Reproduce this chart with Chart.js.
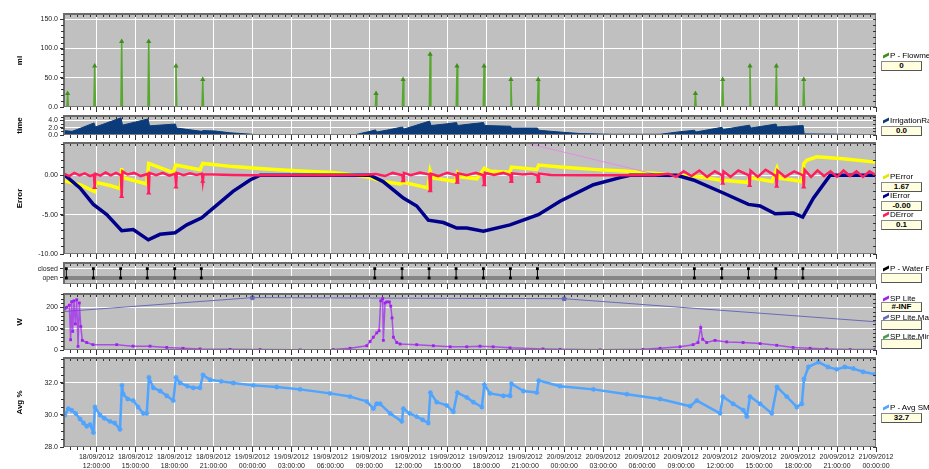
<!DOCTYPE html>
<html>
<head>
<meta charset="utf-8">
<script src="https://cdn.jsdelivr.net/npm/chart.js@4"></script>
<style>
  body { margin: 0; background: #fff; width: 929px; height: 469px; overflow: hidden; position: relative; font-family: "Liberation Sans", Arial, sans-serif; }
  canvas.panel { position: absolute; left: 0; }
  .leg { position: absolute; left: 883px; font-size: 8px; line-height: 9px; color: #000; white-space: nowrap; }
  .leg i { display: inline-block; width: 6px; height: 3px; margin-right: 1px; transform: skewY(-25deg); vertical-align: 1px; }
  .box { position: absolute; left: 881px; width: 39px; height: 8px; background: #ffffe0; border: 1px solid #8a8a8a; border-right-color: #555; border-bottom-color: #555; font-size: 8px; font-weight: bold; text-align: center; line-height: 8px; }
</style>
</head>
<body>
<canvas id="cFlow" class="panel"></canvas>
<canvas id="cRate" class="panel"></canvas>
<canvas id="cErr" class="panel"></canvas>
<canvas id="cValve" class="panel"></canvas>
<canvas id="cLite" class="panel"></canvas>
<canvas id="cAvg" class="panel"></canvas>
<div id="legend"></div>
<script>
// x values are hours since 18/09/2012 00:00
const X_MIN = 9.5, X_MAX = 72;
const tickHours = [12, 15, 18, 21, 24, 27, 30, 33, 36, 39, 42, 45, 48, 51, 54, 57, 60, 63, 66, 69, 72];

// --- P - Flowmeter (ml) ---
const flowTimes = [9.78, 11.86, 13.94, 16.02, 18.12, 20.18, 33.52, 35.6, 37.68, 39.75, 41.83, 43.9, 46.0, 58.1, 60.2, 62.3, 64.33, 66.44];
const flowPeaks = [23, 70, 112, 112, 70, 47, 23, 47, 90, 70, 70, 47, 47, 23, 47, 70, 70, 47];

// --- IrrigationRate (time) ---
const rateTimes = [9.5, 10.12, 10.73, 11.81, 11.92, 13.89, 14.0, 15.97, 16.08, 17.66, 18.08, 18.16, 20.12, 20.2, 21.12, 22.28, 23.97, 24.43,
  31.9, 32.29, 33.06, 33.48, 33.56, 34.6, 35.56, 35.64, 37.64, 37.75, 38.83, 39.72, 39.79, 40.75, 41.79, 41.87, 43.87, 43.95, 45.95, 46.03,
  47.68, 49.22, 51.53, 55.38, 56.92, 58.04, 58.11, 60.15, 60.23, 62.27, 62.35, 64.31, 64.39, 66.39, 66.47, 72.0];
const rateValues = [1.2, 1.0, 1.8, 3.3, 2.2, 4.7, 2.7, 4.4, 2.5, 2.9, 3.0, 1.9, 1.0, 1.2, 1.1, 0.6, 0.2, 0.05,
  0.05, 0.4, 1.0, 1.4, 0.8, 1.5, 2.2, 1.6, 3.8, 2.6, 3.0, 3.4, 2.6, 3.0, 3.4, 2.6, 2.4, 1.9, 1.9, 1.3,
  0.8, 0.4, 0.2, 0.2, 0.9, 1.3, 0.8, 2.1, 1.5, 2.7, 1.9, 3.0, 2.2, 2.6, 0.3, 0.1];

// --- PError / IError / DError ---
const pErrTimes = [9.5, 10.73, 11.83, 11.94, 13.04, 13.85, 13.94, 14.04, 15.87, 16.02, 17.91, 18.1, 19.97, 20.18, 22.5, 25.1, 27.67, 30.2, 31.52,
  33.06, 34.06, 35.37, 35.62, 37.52, 37.68, 37.83, 39.6, 39.78, 40.0, 41.27, 41.86, 42.3, 43.83, 43.94, 45.89, 46.04, 47.68, 50.25, 52.82,
  55.38, 56.38, 57.94, 60.0, 62.06, 62.3, 64.0, 64.38, 64.62, 65.62, 66.31, 66.44, 66.67, 67.44, 69.47, 71.93];
const pErrValues = [-0.7, -1.2, -2.05, -0.9, -1.3, -1.7, 0.9, -0.3, -1.1, 1.5, 0.35, 1.3, 0.7, 1.5, 1.1, 0.8, 0.55, 0.35, 0.1,
  -0.3, -0.8, -1.1, -0.9, -1.6, 0.5, -0.3, -0.8, 0.3, -0.2, -0.45, 0.9, 0.5, 0.4, 1.05, 0.75, 1.3, 1.05, 0.75, 0.5,
  0.2, 0.0, -0.1, -0.6, -0.9, -0.3, -0.8, 0.9, -0.4, -0.6, -0.8, 1.5, 1.9, 2.35, 2.1, 1.67];

const iErrTimes = [9.58, 10.73, 11.76, 12.79, 13.94, 14.83, 15.99, 16.89, 18.05, 18.95, 20.1, 21.26, 22.51, 23.82, 24.59,
  33.06, 34.06, 35.62, 36.65, 37.54, 38.7, 39.73, 40.5, 41.78, 43.83, 46.01, 47.68, 50.25, 52.3, 53.07,
  56.67, 57.94, 60.25, 62.18, 63.08, 64.24, 65.64, 66.36, 67.18, 68.47, 72.0];
const iErrValues = [0.0, -1.6, -3.7, -5.0, -7.05, -6.9, -8.2, -7.5, -7.3, -6.3, -5.4, -3.8, -2.05, -0.6, 0.0,
  0.0, -0.8, -2.9, -3.9, -5.7, -6.0, -6.7, -6.7, -7.1, -6.3, -5.0, -3.3, -1.2, -0.3, 0.0,
  0.0, -0.6, -2.25, -3.7, -3.9, -4.9, -4.8, -5.3, -2.9, 0.0, 0.0];

const dErrTimes = [9.5, 9.9, 10.3, 10.7, 11.1, 11.5, 11.8, 11.86, 11.92, 12.3, 12.7, 13.1, 13.5, 13.88, 13.94, 14.0, 14.4, 14.9, 15.4,
  15.96, 16.02, 16.08, 16.6, 17.1, 17.6, 18.06, 18.12, 18.18, 18.7, 19.2, 19.7, 20.12, 20.18, 20.24, 21.0, 22.5, 24.0, 27.0, 30.0,
  32.5, 33.5, 34.2, 34.8, 35.54, 35.6, 35.66, 36.2, 36.9, 37.62, 37.68, 37.74, 38.3, 39.0, 39.7, 39.76, 39.82, 40.5, 41.2, 41.78,
  41.84, 41.9, 42.6, 43.3, 43.86, 43.92, 43.98, 44.8, 45.5, 45.94, 46.0, 46.06, 47.0, 50.0, 53.0, 55.0, 56.0, 56.6, 57.2, 57.8,
  58.4, 59.0, 59.6, 60.14, 60.2, 60.26, 60.8, 61.4, 62.22, 62.28, 62.34, 62.9, 63.5, 64.3, 64.36, 64.42, 65.0, 65.7, 66.38, 66.44,
  66.5, 67.0, 67.5, 68.0, 68.5, 69.0, 69.5, 70.0, 70.5, 71.0, 71.5, 72.0];
const dErrValues = [0.2, -0.1, 0.3, 0.0, 0.25, -0.1, 0.1, -1.55, 0.2, -0.05, 0.35, 0.0, 0.3, 0.0, -2.7, 0.5, 0.1, 0.3, -0.1,
  0.2, -2.25, 0.3, 0.0, 0.3, -0.05, 0.2, -1.5, 0.3, 0.0, 0.25, 0.05, 0.2, -0.75, 0.1, 0.1, 0.05, 0.0, 0.0, 0.0,
  0.05, 0.15, -0.1, 0.3, 0.0, -0.7, 0.3, 0.0, 0.35, 0.1, -1.95, 0.2, -0.1, 0.3, 0.0, -0.9, 0.25, 0.0, 0.3, 0.0,
  -1.2, 0.3, 0.05, 0.3, 0.0, -0.8, 0.25, 0.1, 0.2, 0.0, -0.8, 0.2, 0.05, 0.0, 0.0, 0.0, 0.2, -0.2, 0.5, -0.1,
  0.6, -0.2, 0.5, 0.0, -1.0, 0.5, -0.2, 0.6, 0.0, -1.3, 0.6, -0.2, 0.7, -0.1, -1.4, 0.6, -0.2, 0.5, 0.0, -1.5,
  0.7, -0.2, 0.6, -0.1, 0.5, -0.2, 0.6, -0.1, 0.5, -0.2, 0.5, 0.0];

const traceTimes = [44.0, 56.2];
const traceValues = [4.53, -0.35];

// --- P - Water Pump (valve) ---
const valveTimes = [9.68, 11.76, 13.86, 15.91, 18.02, 20.07, 33.42, 35.52, 37.6, 39.68, 41.78, 43.86, 45.94, 58.02, 60.13, 62.18, 64.29, 66.37];

// --- SP Lite / SP Lite.Max (W) ---
const liteTimes = [9.5, 9.58, 9.71, 9.91, 10.01, 10.09, 10.17, 10.27, 10.37, 10.48, 10.58, 10.68, 10.79, 10.91, 11.25, 11.73, 13.56, 14.81,
  16.12, 17.41, 18.66, 19.97, 22.28, 24.59, 27.67, 30.21, 31.52, 32.8, 33.06, 33.31, 33.57, 33.75, 33.88, 34.03, 34.08, 34.21, 34.34,
  34.54, 34.65, 34.75, 34.85, 35.11, 35.37, 36.65, 37.93, 39.22, 40.5, 41.52, 42.53, 43.83, 46.37, 47.68, 50.76, 54.07, 55.38, 56.92,
  57.92, 58.3, 58.51, 58.66, 58.97, 59.61, 60.51, 61.77, 63.08, 64.36, 65.62, 66.93, 68.21, 70.01, 71.93];
const liteValues = [190, 195, 200, 210, 48, 226, 87, 230, 122, 235, 17, 220, 110, 45, 35, 25, 25, 18,
  18, 12, 8, 5, 3, 2, 1, 2, 8, 20, 40, 60, 80, 90, 230, 240, 45, 220, 225,
  225, 205, 150, 60, 35, 28, 25, 20, 15, 15, 18, 15, 10, 5, 3, 1, 3, 8, 15,
  25, 35, 105, 50, 35, 45, 38, 35, 30, 22, 12, 8, 5, 2, 2];
const liteMaxTimes = [9.5, 24.0, 48.0, 72.0];
const liteMaxValues = [180, 245, 240, 132];

// --- P - Avg SM3 (Avg %) ---
const avgTimes = [9.5, 9.58, 9.83, 10.09, 10.4, 10.73, 11.0, 11.25, 11.5, 11.76, 11.88, 12.27, 12.6, 13.04, 13.4, 13.81, 13.96, 14.06,
  14.4, 14.83, 15.2, 15.6, 15.87, 16.04, 16.37, 16.9, 17.41, 17.91, 18.12, 18.43, 19.0, 19.45, 19.97, 20.2, 20.74, 21.6, 22.53,
  24.07, 25.87, 27.67, 29.98, 31.52, 32.8, 33.31, 33.56, 33.83, 34.6, 35.5, 35.62, 36.1, 36.65, 37.1, 37.54, 37.7, 38.19, 38.96,
  39.47, 39.78, 40.5, 41.01, 41.66, 41.86, 42.29, 43.32, 43.83, 43.94, 44.86, 45.89, 46.04, 47.68, 50.25, 52.82, 55.38, 57.69,
  58.21, 60.0, 60.21, 61.0, 61.79, 62.06, 62.3, 63.08, 63.98, 64.38, 65.13, 65.9, 66.29, 66.46, 66.8, 67.57, 68.3, 68.98, 69.6,
  70.26, 71.0, 71.93];
const avgValues = [30.1, 30.0, 30.4, 30.3, 30.1, 29.75, 29.5, 29.3, 29.4, 28.9, 30.5, 30.0, 29.8, 29.6, 29.5, 29.1, 31.85, 31.3,
  31.0, 30.9, 30.5, 30.1, 30.1, 32.35, 31.7, 31.5, 31.2, 30.9, 32.35, 32.0, 31.8, 31.7, 31.7, 32.5, 32.2, 32.1, 32.0,
  31.85, 31.75, 31.6, 31.35, 31.15, 30.85, 30.4, 30.7, 30.7, 30.1, 29.6, 30.4, 30.1, 29.9, 29.7, 29.5, 31.4, 30.8, 30.6,
  30.2, 31.4, 31.1, 30.8, 30.5, 31.9, 31.35, 31.2, 31.2, 31.95, 31.5, 31.4, 32.15, 31.8, 31.6, 31.3, 31.0, 30.55,
  30.9, 30.1, 31.15, 30.7, 30.3, 29.9, 31.15, 30.7, 30.1, 31.75, 31.15, 30.5, 30.7, 32.25, 33.0, 33.3, 33.0, 32.85, 33.0,
  32.9, 32.7, 32.55];

// --- helpers ---
const zip = (ts, vs) => ts.map((t, i) => ({ x: t, y: vs[i] }));
const xLabel = h => [(18 + Math.floor(h / 24)) + '/09/2012', String(h % 24).padStart(2, '0') + ':00:00'];

const framePlugin = {
  id: 'frame',
  beforeDraw(chart) {
    const { ctx, chartArea: a } = chart;
    ctx.save();
    ctx.fillStyle = '#c0c0c0';
    ctx.fillRect(a.left, a.top, a.right - a.left, a.bottom - a.top);
    ctx.restore();
  },
  afterDraw(chart, args, opts) {
    const { ctx, chartArea: a, scales: { x, y } } = chart;
    ctx.save();
    ctx.strokeStyle = '#7a7a7a';
    ctx.lineWidth = 1;
    ctx.strokeRect(a.left + 0.5, a.top + 0.5, a.right - a.left - 1, a.bottom - a.top - 1);
    ctx.fillStyle = '#6a6a6a';
    ctx.fillRect(a.left, a.top - 1, a.right - a.left, 2);
    ctx.fillRect(a.left - 1, a.top - 1, 2, a.bottom - a.top + 1);
    ctx.strokeStyle = '#333';
    ctx.beginPath();
    for (let h = 10; h < X_MAX; h += 0.5) {
      const px = Math.round(x.getPixelForValue(h)) + 0.5;
      ctx.moveTo(px, a.top + 1); ctx.lineTo(px, a.top + 3);
      ctx.moveTo(px, a.bottom); ctx.lineTo(px, a.bottom + 3);
    }
    tickHours.forEach(h => {
      const px = Math.round(x.getPixelForValue(h)) + 0.5;
      ctx.moveTo(px, a.bottom); ctx.lineTo(px, a.bottom + 5);
    });
    if (opts.minor) {
      for (let v = Math.ceil(y.min / opts.minor) * opts.minor; v <= y.max; v += opts.minor) {
        const py = Math.round(y.getPixelForValue(v)) + 0.5;
        ctx.moveTo(a.left - 3, py); ctx.lineTo(a.left, py);
        ctx.moveTo(a.right - 3, py); ctx.lineTo(a.right, py);
      }
    }
    ctx.stroke();
    ctx.restore();
  }
};

function makePanel(id, areaTop, areaBottom, isBottom, datasets, yCfg) {
  const canvas = document.getElementById(id);
  const top = areaTop - 8;
  const height = isBottom ? 469 - top : areaBottom - areaTop + 16;
  canvas.width = 929;
  canvas.height = height;
  canvas.style.top = top + 'px';
  return new Chart(canvas, {
    type: 'line',
    data: { datasets },
    plugins: [framePlugin],
    options: {
      responsive: false,
      animation: false,
      events: [],
      layout: { padding: { top: 8, bottom: isBottom ? 0 : 8, left: 0, right: 53 } },
      plugins: { legend: { display: false }, tooltip: { enabled: false }, frame: { minor: yCfg.minor } },
      scales: {
        x: {
          type: 'linear', min: X_MIN, max: X_MAX,
          afterBuildTicks: s => { s.ticks = tickHours.map(v => ({ value: v })); },
          afterFit: s => { s.height = isBottom ? 22 : 0; },
          grid: { color: '#ffffff', lineWidth: 1, drawTicks: isBottom, tickLength: 4, tickColor: '#333' },
          border: { display: false },
          ticks: {
            display: isBottom, autoSkip: false, maxRotation: 0, padding: 1,
            font: { size: 7, family: '"Liberation Sans", Arial, sans-serif', lineHeight: 1.35 }, color: '#222',
            callback: v => xLabel(v)
          }
        },
        y: {
          type: 'linear', min: yCfg.min, max: yCfg.max,
          afterBuildTicks: s => { s.ticks = yCfg.ticks.map(v => ({ value: v })); },
          afterFit: s => { s.width = 64; },
          grid: { color: '#ffffff', lineWidth: 1, tickLength: 4, tickColor: '#333' },
          border: { display: false },
          title: {
            display: true, text: yCfg.title, color: '#000',
            font: { size: 8, weight: 'bold', family: '"Liberation Sans", Arial, sans-serif' },
            padding: { top: 15, bottom: 0 }
          },
          ticks: {
            autoSkip: false, padding: 2, color: '#222',
            font: { size: 7, family: '"Liberation Sans", Arial, sans-serif' },
            callback: yCfg.fmt
          }
        }
      }
    }
  });
}

// --- Flowmeter panel ---
const flowPoints = [{ x: X_MIN, y: 0 }];
flowTimes.forEach((t, i) => flowPoints.push({ x: t - 0.06, y: 0 }, { x: t, y: flowPeaks[i] }, { x: t + 0.06, y: 0 }));
flowPoints.push({ x: X_MAX, y: 0 });

makePanel('cFlow', 14, 107, false, [{
  data: flowPoints, borderColor: '#58a830', borderWidth: 1.5,
  pointStyle: 'triangle', backgroundColor: '#3f8f1c', borderJoinStyle: 'miter',
  pointRadius: ctx => (ctx.raw && ctx.raw.y > 0 ? 3 : 0), pointBorderWidth: 0
}], { title: 'ml', min: 0, max: 159, ticks: [0, 50, 100, 150], minor: 10, fmt: v => v.toFixed(1) });

// --- IrrigationRate panel ---
makePanel('cRate', 116, 135, false, [{
  data: zip(rateTimes, rateValues), borderColor: '#0b3b78', borderWidth: 1,
  backgroundColor: '#0b3b78', fill: 'origin', pointRadius: 0
}], { title: 'time', min: 0, max: 5.2, ticks: [0, 2, 4], minor: 1, fmt: v => v.toFixed(1) });

// --- Error panel (first dataset is drawn on top) ---
makePanel('cErr', 143, 254, false, [
  {
    data: zip(dErrTimes, dErrValues), borderColor: '#ff1f5f', borderWidth: 2.5,
    pointStyle: 'triangle', backgroundColor: '#ff1f5f',
    pointRadius: ctx => (ctx.raw && ctx.raw.y < -0.5 ? 3 : 0), pointBorderWidth: 0
  },
  { data: zip(iErrTimes, iErrValues), borderColor: '#00008b', borderWidth: 3.5, pointRadius: 0 },
  { data: zip(traceTimes, traceValues), borderColor: '#e58ae5', borderWidth: 1, pointRadius: 0 },
  { data: zip(pErrTimes, pErrValues), borderColor: '#ffff00', borderWidth: 3.5, pointRadius: 0 }
], { title: 'Error', min: -10, max: 4.1, ticks: [-10, -5, 0], minor: 1, fmt: v => v.toFixed(2) });

// --- Water pump (valve) panel ---
const valvePoints = [];
valveTimes.forEach(t => valvePoints.push({ x: t, y: 0 }, { x: t, y: 1 }, { x: t, y: null }));

makePanel('cValve', 263, 284, false, [
  {
    data: valvePoints, borderColor: '#000', borderWidth: 1, spanGaps: false,
    pointStyle: 'rect', pointRadius: 2, backgroundColor: '#000', pointBorderWidth: 0
  },
  { data: [{ x: X_MIN, y: 0 }, { x: X_MAX, y: 0 }], borderColor: '#858585', borderWidth: 4, pointRadius: 0 }
], { title: '', min: -0.65, max: 1.61, ticks: [0, 1], minor: 0, fmt: v => (v === 1 ? 'closed' : v === 0 ? 'open' : '') });

// --- SP Lite panel ---
makePanel('cLite', 294, 350, false, [
  {
    data: zip(liteTimes, liteValues), borderColor: 'rgba(160, 40, 240, 0.75)', borderWidth: 1.5,
    pointStyle: 'rect', pointRadius: 2, backgroundColor: '#a020f0', pointBorderWidth: 0
  },
  {
    data: zip(liteMaxTimes, liteMaxValues), borderColor: '#6a6ab8', borderWidth: 1,
    pointRadius: ctx => (ctx.dataIndex === 1 || ctx.dataIndex === 2 ? 2.5 : 0), backgroundColor: '#6a6ab8', pointBorderWidth: 0
  }
], { title: 'W', min: 0, max: 262, ticks: [0, 100, 200], minor: 20, fmt: v => String(v) });

// --- Avg SM3 panel ---
makePanel('cAvg', 358, 447, true, [{
  data: zip(avgTimes, avgValues), borderColor: '#4ea4ff', borderWidth: 2.5,
  pointStyle: 'star', pointRadius: 2.5, borderJoinStyle: 'round', pointBorderColor: '#4ea4ff', pointBorderWidth: 1.2
}], { title: 'Avg %', min: 28, max: 33.56, ticks: [28, 30, 32], minor: 0.5, fmt: v => v.toFixed(1) });

// --- right-hand legend with value boxes ---
const legendItems = [
  { label: 'P - Flowmeter', color: '#3f8f1c', y: 51, boxY: 61, value: '0' },
  { label: 'IrrigationRate', color: '#0b3b78', y: 116, boxY: 126, value: '0.0' },
  { label: 'PError', color: '#e6e600', y: 172, boxY: 182, value: '1.67' },
  { label: 'IError', color: '#00008b', y: 191, boxY: 201, value: '-0.00' },
  { label: 'DError', color: '#ff1f5f', y: 210, boxY: 220, value: '0.1' },
  { label: 'P - Water Pump', color: '#000', y: 264, boxY: 273, value: '' },
  { label: 'SP Lite', color: '#a020f0', y: 294, boxY: 302, value: '#-INF' },
  { label: 'SP Lite.Max', color: '#6a6ab8', y: 313, boxY: 320, value: '' },
  { label: 'SP Lite.Min', color: '#4aa04a', y: 332, boxY: 339, value: '' },
  { label: 'P - Avg SM3', color: '#4ea4ff', y: 403, boxY: 413, value: '32.7' }
];
const legendEl = document.getElementById('legend');
legendItems.forEach(item => {
  const l = document.createElement('div');
  l.className = 'leg';
  l.style.top = item.y + 'px';
  l.innerHTML = `<i style="background:${item.color}"></i>${item.label}`;
  legendEl.appendChild(l);
  const b = document.createElement('div');
  b.className = 'box';
  b.style.top = item.boxY + 'px';
  b.textContent = item.value;
  legendEl.appendChild(b);
});
</script>
</body>
</html>
